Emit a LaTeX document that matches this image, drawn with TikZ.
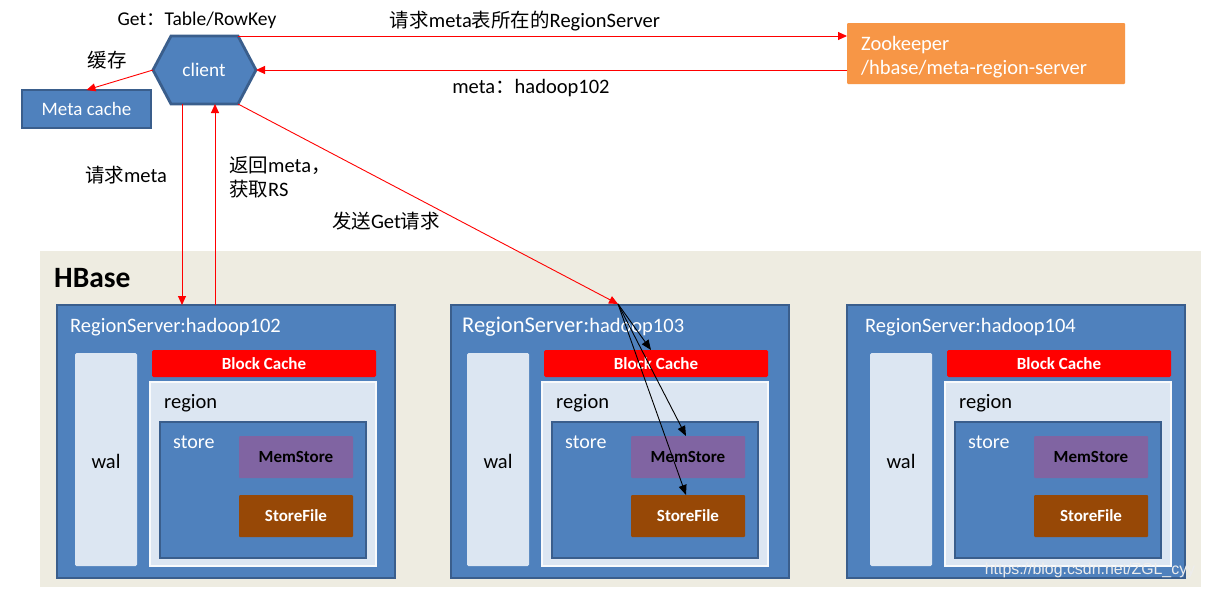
\documentclass[tikz,border=0pt]{standalone}
\usepackage{fontspec}
\setmainfont{Carlito}
\newfontfamily\cjk{Noto Sans CJK SC}[Scale=0.95]
\newfontfamily\wmfont{Liberation Sans}
\usetikzlibrary{arrows.meta}
\definecolor{hblue}{HTML}{4F81BD}
\definecolor{hdark}{HTML}{3A5E8C}
\definecolor{hlight}{HTML}{DCE6F2}
\definecolor{hpurple}{HTML}{8064A2}
\definecolor{hbrown}{HTML}{974806}
\definecolor{horange}{HTML}{F79646}
\definecolor{hbg}{HTML}{EEECE1}
\definecolor{hred}{HTML}{FF0000}
\newcommand{\fsz}[1]{\fontsize{#1}{#1}\selectfont}
\tikzset{
  box/.style={rectangle, anchor=north west, inner sep=0pt, outer sep=0pt},
  rsbox/.style={box, fill=hblue, draw=hdark, line width=2.5pt},
  walbox/.style={box, fill=hlight, rounded corners=1.5pt},
  bcbox/.style={box, fill=hred, rounded corners=1.5pt, text=white, font=\fsz{17}\bfseries, text depth=0pt},
  regbox/.style={box, fill=hlight, draw=white!80!hlight, line width=2pt},
  stbox/.style={box, fill=hblue, draw=hdark, line width=2.5pt},
  membox/.style={box, fill=hpurple, rounded corners=1pt, text=black, font=\fsz{17}\bfseries, text depth=0pt},
  sfbox/.style={box, fill=hbrown, rounded corners=1pt, text=white, font=\fsz{17}\bfseries, text depth=0pt},
  lbl/.style={inner sep=0pt, font=\fsz{20.5}},
  wlbl/.style={inner sep=0pt, anchor=west, text=white, font=\fsz{20}},
  redarr/.style={draw=hred, line width=0.9pt, -{Triangle[length=9pt,width=8pt]}},
  blkarr/.style={draw=black, line width=0.9pt, -{Triangle[length=10pt,width=8pt]}},
}
% #1 id, #2 outer shift, #3 inner shift, #4 title, #5 extra
\newcommand{\rserver}[5]{%
  \begin{scope}[xshift=#2pt]
  \node[rsbox, minimum width=338pt, minimum height=273pt] (rs#1) at (57,305) {};
  \end{scope}
  \begin{scope}[xshift=#3pt]
  \node[inner sep=0pt, anchor=west, text=white] (rst#1) at (70,327) {#4};
  \node[walbox, minimum width=62pt, minimum height=213pt] (wal#1) at (75,353) {};
  \node[lbl, font=\fsz{20.5}] (walt#1) at (106,461) {wal};
  \node[bcbox, minimum width=224pt, minimum height=27pt] (bc#1) at (152,350) {Block Cache};
  \node[regbox, minimum width=226pt, minimum height=184pt] (reg#1) at (150,382) {};
  \node[lbl, anchor=west, font=\fsz{20.5}] (regt#1) at (164,403) {region};
  \node[stbox, minimum width=206pt, minimum height=136pt] (st#1) at (160,422) {};
  \node[wlbl] (stt#1) at (173,442) {store};
  \node[membox, minimum width=114pt, minimum height=42pt] (mem#1) at (239,436) {MemStore};
  \node[sfbox, minimum width=114pt, minimum height=42pt] (sf#1) at (239,495) {StoreFile};
  #5
  \end{scope}}
\begin{document}
\begin{tikzpicture}[x=1pt, y=-1pt]
\useasboundingbox (0,0) rectangle (1205,589);
\fill[white] (0,0) rectangle (1205,589);
% HBase background
\node[box, fill=hbg, minimum width=1161pt, minimum height=336pt] (hb) at (40,251) {};
\node[inner sep=0pt, anchor=west, font=\fsz{29.5}\bfseries] (hbt) at (54,278) {HBase};
% region servers
\rserver{1}{0}{0}{\fsz{20.5}RegionServer:hadoop102}{}
\rserver{2}{394}{392}{\fsz{22.5}RegionServer:{\fsz{20.5}hadoop103}}{\coordinate (hit) at (226,304);}
\rserver{3}{790}{795}{\fsz{20.5}RegionServer:hadoop104}{}
% client hexagon
\coordinate (hl) at (153,70);
\coordinate (htl) at (171,36);
\coordinate (htr) at (238,36);
\coordinate (hr) at (256,70);
\coordinate (hbr) at (238,104);
\coordinate (hbl) at (171,104);
\filldraw[fill=hblue, draw=hdark, line width=2.8pt, line join=miter] (hl) -- (htl) -- (htr) -- (hr) -- (hbr) -- (hbl) -- cycle;
\node[inner sep=0pt, text=white, font=\fsz{19.3}] (client) at (204,70) {client};
% meta cache
\node[box, fill=hblue, draw=hdark, line width=2pt, minimum width=129pt, minimum height=38pt, text=white, font=\fsz{19}] (mc) at (22,90) {Meta cache};
% zookeeper
\node[box, fill=horange, rounded corners=1pt, minimum width=278pt, minimum height=61pt] (zk) at (847,23) {};
\node[inner sep=0pt, anchor=west, align=left, text=white, font=\fontsize{20.5}{24}\selectfont] (zkt) at (861,57) {Zookeeper\\/hbase/meta-region-server};
% labels
\node[lbl, font=\fsz{19.5}] (getl) at (197,20) {Get{\cjk ：}Table/RowKey};
\node[lbl, font=\fsz{20.5}\cjk] (cachel) at (107,60) {缓存};
\node[lbl] (reql) at (525,21) {{\cjk 请求}meta{\cjk 表所在的}RegionServer};
\node[lbl] (metal) at (531,88) {meta{\cjk ：}hadoop102};
\node[lbl] (rqm) at (126,175) {{\cjk 请求}meta};
\node[lbl, anchor=west, align=left, font=\fontsize{20.5}{24}\selectfont] (retl) at (229,177) {{\cjk 返回}meta{\cjk ，}\\{\cjk 获取}RS};
\node[lbl] (sendl) at (386,221) {{\cjk 发送}Get{\cjk 请求}};
% connectors
\coordinate (c1) at (182,104);
\coordinate (c2) at (215,104);
\draw[redarr] (htr) -- (zk.west |- htr);
\draw[redarr] (zk.west |- hr) -- (hr);
\draw[redarr] (hl) -- (mc.north);
\draw[redarr] (c1) -- (c1 |- rs1.north);
\draw[redarr] (c2 |- rs1.north) -- (c2);
\draw[redarr] (hbr) -- (hit);
\draw[blkarr] (hit) -- ([xshift=-5pt]bc2.north);
\draw[blkarr] (hit) -- ([xshift=-2pt]mem2.north);
\draw[blkarr] (hit) -- ([xshift=-2pt]sf2.north);
% watermark
\node[inner sep=0pt, text=white!93!black, font=\fsz{15.9}\wmfont] (wm) at (1090,570) {https://blog.csdn.net/ZGL\_cyy};
\end{tikzpicture}
\end{document}
